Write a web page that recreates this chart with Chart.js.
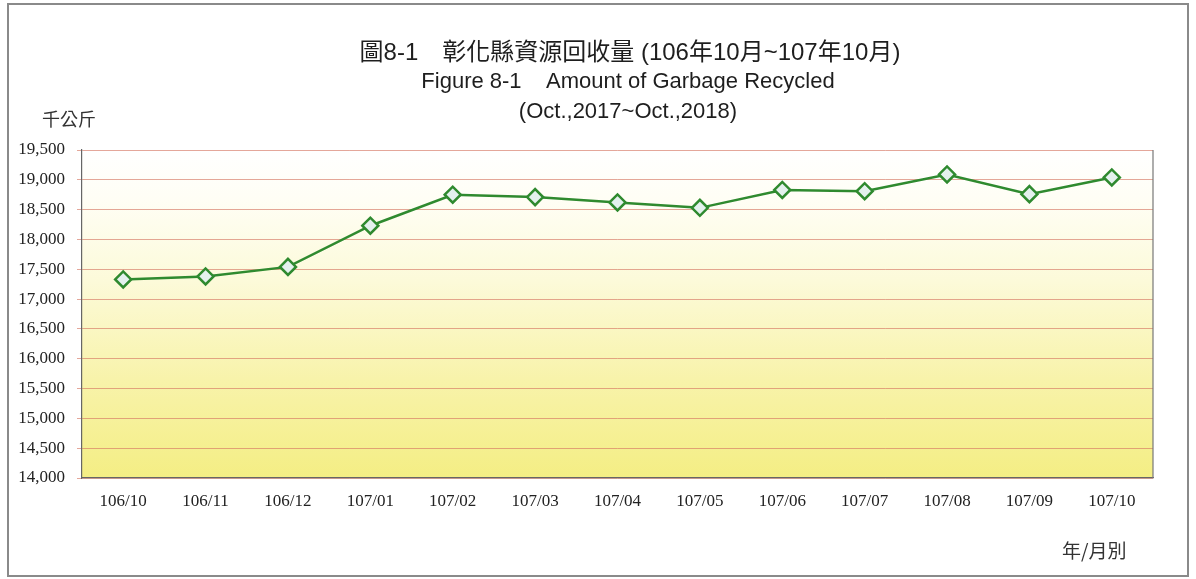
<!DOCTYPE html>
<html>
<head>
<meta charset="utf-8">
<script src="https://cdn.jsdelivr.net/npm/chart.js@4"></script>
<style>
  html, body { margin: 0; padding: 0; background: #fff; }
  #wrap { position: relative; width: 1196px; height: 579px; overflow: hidden; }
  #frame { position: absolute; left: 7px; top: 3px; width: 1178px; height: 570px; border: 2px solid #8a8a8a; }
  .t { position: absolute; white-space: nowrap; color: #1e1e1e; }
  #t1 { left: 0; width: 1260px; text-align: center; top: 32px; font: 24px 'Liberation Sans', 'Noto Sans CJK TC', sans-serif; }
  #t2 { left: 0; width: 1256px; text-align: center; top: 68px; font: 22px 'Liberation Sans', sans-serif; }
  #t3 { left: 0; width: 1256px; text-align: center; top: 98px; font: 22px 'Liberation Sans', sans-serif; }
  #unitY { left: 42px; top: 105px; font: 18px 'Noto Sans CJK TC', sans-serif; color: #333; }
  #unitX { left: 1062px; top: 536px; font: 19px 'Noto Sans CJK TC', sans-serif; color: #333; }
  canvas { position: absolute; left: 0; top: 0; }
</style>
</head>
<body>
<div id="wrap">
  <canvas id="grafico" width="1196" height="579"></canvas>
  <div id="frame"></div>
  <div class="t" id="t1">圖8-1　彰化縣資源回收量 (106年10月~107年10月)</div>
  <div class="t" id="t2">Figure 8-1&nbsp;&nbsp;&nbsp;&nbsp;Amount of Garbage Recycled</div>
  <div class="t" id="t3">(Oct.,2017~Oct.,2018)</div>
  <div class="t" id="unitY">千公斤</div>
  <div class="t" id="unitX">年/月別</div>
</div>
<script>
// ================= DADOS =================
const meses = ['106/10', '106/11', '106/12', '107/01', '107/02', '107/03', '107/04',
               '107/05', '107/06', '107/07', '107/08', '107/09', '107/10'];
const reciclagem = [17330, 17380, 17540, 18230, 18750, 18710, 18620,
                    18530, 18830, 18810, 19090, 18760, 19040];
const eixoMin = 14000;
const eixoMax = 19500;
const passo = 500;

// fundo em degradê (branco -> amarelo) dentro da área do gráfico
const fundoPlugin = {
  id: 'fundo',
  beforeDraw(chart) {
    const { ctx, chartArea: a } = chart;
    const g = ctx.createLinearGradient(0, a.top, 0, a.bottom);
    g.addColorStop(0, '#ffffff');
    g.addColorStop(0.15, '#fffef5');
    g.addColorStop(0.4, '#fcfad9');
    g.addColorStop(0.7, '#f8f3aa');
    g.addColorStop(1, '#f4ee84');
    ctx.save();
    ctx.fillStyle = g;
    ctx.fillRect(a.left, a.top, a.right - a.left, a.bottom - a.top);
    ctx.restore();
  },
  afterDatasetsDraw(chart) {
    const { ctx, chartArea: a } = chart;
    ctx.save();
    ctx.strokeStyle = '#777';
    ctx.lineWidth = 1.2;
    ctx.beginPath();
    ctx.moveTo(a.right, a.top);
    ctx.lineTo(a.right, a.bottom);
    ctx.stroke();
    ctx.restore();
  }
};

new Chart(document.getElementById('grafico'), {
  type: 'line',
  data: {
    labels: meses,
    datasets: [{
      data: reciclagem,
      borderColor: '#2f8a2f',
      borderWidth: 2.5,
      pointStyle: 'rectRot',
      pointRadius: 8,
      pointHoverRadius: 8,
      pointBackgroundColor: '#e4f1ee',
      pointBorderColor: '#2f8a2f',
      pointBorderWidth: 2.5,
      tension: 0
    }]
  },
  options: {
    responsive: false,
    animation: false,
    layout: { padding: { left: 0, right: 43, top: 150, bottom: 61 } },
    plugins: { legend: { display: false }, tooltip: { enabled: false } },
    scales: {
      x: {
        offset: true,
        grid: { display: false },
        border: { color: '#666', width: 1.2 },
        ticks: { color: '#222', padding: 5, font: { family: "'Liberation Serif', serif", size: 17 } },
        afterFit: s => { s.height = 40; }
      },
      y: {
        min: eixoMin,
        max: eixoMax,
        grid: { color: 'rgba(214,120,100,0.65)', lineWidth: 1, tickLength: 5 },
        border: { color: '#666', width: 1.2 },
        ticks: {
          stepSize: passo,
          color: '#222',
          padding: 12,
          font: { family: "'Liberation Serif', serif", size: 17 },
          callback: v => Number(v).toLocaleString('en-US')
        },
        afterFit: s => { s.width = 82; }
      }
    }
  },
  plugins: [fundoPlugin]
});
</script>
</body>
</html>
